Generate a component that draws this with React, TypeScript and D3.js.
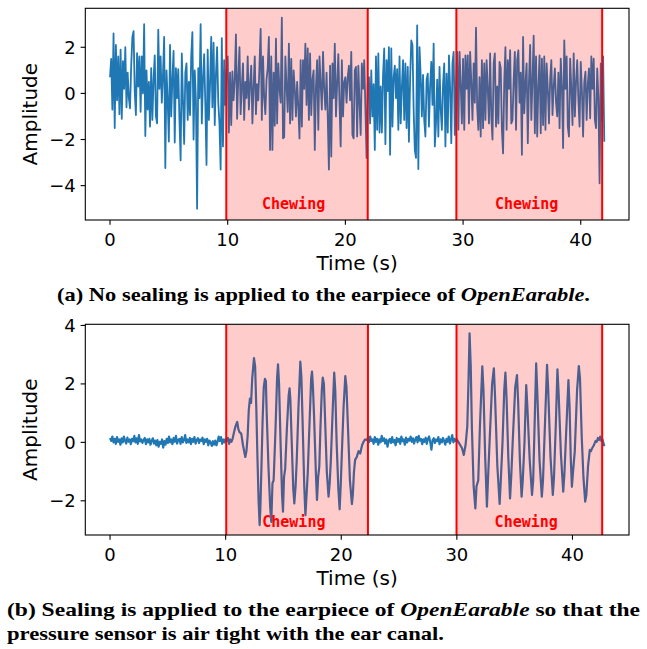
import React from 'react';
import * as d3 from 'd3';

// ---------- data ----------
// (a) unsealed earpiece, sampled every 0.1 s from t = 0
const unsealedDt = 0.1;
const unsealedAmp = [
  0.7, 1.5, -0.7, 2.6, -1.5, 2.1, -0.3, 1.6, -0.9, 1.9,
  -1.1, 1.4, 0.2, 2.0, -0.6, 0.9, -0.2, -0.65, 1.2, 2.45,
  2.7, 0.1, -0.94, 1.75, 0.3, 1.6, -0.8, 1.6, 0.0, 3.0,
  -1.85, 1.0, -0.7, 0.5, -1.44, 1.1, -1.15, 0.6, 1.65, -1.0,
  -1.3, 2.76, 0.2, 1.6, -0.4, 0.8, 2.45, -3.24, 1.0, -0.3,
  -2.09, 2.1, -1.0, 0.6, 1.84, -2.13, 1.1, -0.2, 1.05, -1.15,
  -2.9, 1.73, -0.3, -2.19, 0.9, 1.3, -1.15, 0.5, -0.94, 1.6,
  2.66, -2.0, 1.0, -0.3, -5.0, 1.1, -0.2, 3.0, -1.3, 0.6,
  1.7, -0.5, -3.1, 1.9, -1.15, 0.4, 2.45, -0.6, 2.2, -1.37,
  0.8, 2.0, -0.4, -1.3, -3.3, 2.4, -2.3, 1.44, -0.5, 1.0,
  1.6, -1.7, 0.9, -1.37, 0.95, -0.3, 0.6, 2.56, -1.1, 0.7,
  2.0, -0.9, 0.3, 1.3, -1.15, 0.5, -0.2, 1.6, -0.7, 0.4,
  1.2, -1.3, 0.3, 1.6, -0.9, 0.4, -0.3, 1.2, 2.8, -1.15,
  1.6, -0.2, -0.9, 0.6, 1.1, 2.45, -2.45, 1.6, -2.45, 0.9,
  -1.4, 2.37, -1.3, 1.3, 0.2, -0.4, 3.28, -1.95, -1.9, 1.6,
  0.3, -0.8, 2.16, -1.3, 1.5, -1.15, 1.0, 0.2, -1.0, 0.5,
  -0.6, -1.95, 1.44, -1.44, 1.44, 0.2, 2.16, -0.5, 1.95, -1.15,
  1.73, -0.94, 0.6, 1.0, -2.45, 0.3, 1.44, -1.58, 1.6, 0.4,
  -0.7, 1.8, 0.2, -0.7, 0.9, -1.0, -3.3, 1.2, -2.74, 1.3,
  -0.2, 2.16, -1.0, 0.4, 1.7, -0.4, -2.3, 1.44, -1.0, 0.5,
  0.7, -0.4, 0.72, 1.2, -0.3, 1.8, -1.8, -1.95, 1.0, 1.15,
  -1.87, 1.2, -0.4, -1.8, 1.3, 0.2, 1.44, -0.6, -2.8, 0.4,
  0.7, -1.3, 1.0, -1.0, 0.4, -2.45, 1.6, -1.58, 1.73, -1.7,
  0.3, -1.7, 0.8, 1.95, -2.2, 1.44, 0.1, 2.0, -2.66, 1.95,
  -1.44, 0.7, 1.2, -0.2, 1.05, -1.58, 1.6, -1.3, 0.3, 1.44,
  -1.15, 1.3, -1.5, 1.15, -2.1, 0.6, 2.3, 2.1, -0.7, -2.45,
  -2.8, 2.95, -3.28, 2.0, 0.72, -1.0, 0.8, -1.15, -1.87, 0.6,
  0.86, -1.44, 0.3, 1.37, -0.5, 2.16, -2.3, -1.3, 0.6, -1.87,
  1.15, -0.7, -1.58, 0.4, 1.3, -2.3, 0.86, -1.7, 1.65, 0.2,
  -2.16, 1.3, 1.8, -1.8, 0.3, 1.8, -1.58, 1.8, 0.4, -1.3,
  1.5, -1.58, 1.65, 0.2, 1.65, -1.3, 1.8, 0.5, -1.15, 1.3,
  -0.4, 2.85, -0.6, -1.58, 0.7, -1.87, 1.44, -1.51, 1.3, -1.15,
  1.44, 0.2, -1.3, 1.73, -1.0, -2.0, 1.3, 1.73, -1.44, 0.3,
  -1.3, 1.37, 1.1, -1.58, -2.6, 0.5, 2.0, -1.58, 1.44, 0.2,
  1.87, -1.3, -1.15, 0.6, 1.8, -1.58, 1.44, 1.87, -0.4, 0.9,
  -2.66, 2.45, -0.86, 0.4, 1.3, -2.16, 0.5, 2.1, -1.15, 0.6,
  2.5, -1.73, 1.6, -1.87, 0.3, 1.65, -1.73, 1.51, -1.37, 1.6,
  -1.58, 1.3, 0.2, -1.3, 0.6, 1.44, -0.94, 0.3, 1.08, -0.4,
  -1.0, 0.9, -1.51, 1.51, 0.3, -2.37, 2.3, 0.2, 1.6, -1.44,
  -1.87, 1.51, 0.2, -1.37, 1.73, -1.0, 0.5, 1.44, -0.3, -1.44,
  1.37, 0.1, -1.87, 0.5, 0.94, -1.15, 0.4, 1.08, -1.08, 1.6,
  0.2, 1.51, -1.15, -1.51, 1.08, -0.2, -3.9, 1.3, -1.15, 1.6,
  -2.1,
];

// (b) sealed earpiece
const sealedDt = 0.1;
const sealedRest1Start = 0;
const sealedRest1 = [
  0.15, 0.05, 0.2, 0.0, 0.12, -0.05, 0.18, 0.02, 0.1, -0.08,
  0.14, 0.0, 0.2, 0.05, -0.04, 0.16, 0.02, 0.1, -0.06, 0.12,
  0.04, 0.22, 0.0, 0.14, -0.05, 0.25, 0.03, 0.1, -0.02, 0.08,
  0.15, -0.06, 0.1, 0.0, 0.12, -0.08, 0.05, 0.14, -0.04, 0.06,
  -0.1, 0.08, -0.15, 0.02, -0.05, 0.1, -0.18, 0.04, -0.08, 0.12,
  -0.02, 0.2, 0.0, 0.1, -0.06, 0.15, 0.02, 0.22, -0.04, 0.08,
  0.12, -0.05, 0.18, 0.0, 0.08, 0.25, -0.02, 0.1, 0.0, 0.15,
  -0.06, 0.12, 0.02, 0.18, -0.04, 0.08, 0.14, -0.02, 0.1, 0.05,
  0.16, -0.06, 0.1, 0.02, 0.12, -0.1, 0.06, 0.0, -0.12, 0.04,
  -0.08, 0.06, -0.1, 0.02, 0.2, 0.05, 0.18, -0.05, 0.1, 0.0,
  0.12,
];
const sealedChew1Time = [
  10.1, 10.2, 10.3, 10.4, 10.5, 10.6, 10.7, 10.85, 11.0, 11.1, 11.2, 11.35, 11.5, 11.6, 11.7, 11.8, 11.9,
  12.0, 12.1, 12.2, 12.3, 12.45, 12.55, 12.65, 12.75, 12.85, 12.94, 13.0, 13.1, 13.2, 13.3, 13.4, 13.48,
  13.55, 13.7, 13.85, 13.95, 14.05, 14.15, 14.3, 14.45, 14.53, 14.62, 14.75, 14.88, 14.96, 15.05, 15.15,
  15.3, 15.45, 15.53, 15.6, 15.7, 15.85, 15.94, 16.05, 16.15, 16.3, 16.46, 16.55, 16.65, 16.8, 16.9, 17.0,
  17.1, 17.25, 17.4, 17.47, 17.55, 17.65, 17.8, 17.9, 18.0, 18.1, 18.2, 18.32, 18.4, 18.5, 18.6, 18.75,
  18.9, 19.0, 19.1, 19.25, 19.39, 19.48, 19.6, 19.75, 19.86, 19.95, 20.05, 20.2, 20.35, 20.45, 20.6, 20.75,
  20.92, 21.0, 21.1, 21.2, 21.35, 21.5, 21.64, 21.8, 21.93, 22.05, 22.2,
];
const sealedChew1Amp = [
  0.05, 0.15, -0.05, 0.1, 0.02, 0.12, 0.3, 0.55, 0.7, 0.45, 0.35, 0.3, -0.1, -0.3, -0.5, -0.3, 0.2,
  1.1, 1.5, 1.35, 2.2, 2.88, 2.6, 1.2, -0.5, -2.0, -2.83, -2.3, -0.8, 0.8, 1.9, 2.17, 2.1,
  1.0, -0.8, -2.2, -2.72, -1.4, -1.3, 0.3, 2.2, 2.67, 2.0, 0.0, -1.8, -2.37, -1.18, -0.9,
  0.5, 1.6, 1.85, 1.45, 0.2, -1.6, -2.09, -1.5, -0.6, 1.2, 2.76, 2.25, 0.8, -1.5, -2.49, -1.8,
  -1.06, 0.6, 2.2, 2.42, 1.9, 0.88, -1.0, -1.97, -1.2, -0.83, 0.5, 1.8, 2.22, 2.0, 0.8, -1.0,
  -1.86, -1.4, -0.6, 1.0, 2.39, 1.8, 0.0, -1.6, -2.29, -1.5, -0.4, 1.2, 2.27, 1.9, 0.3, -1.3,
  -2.11, -1.8, -1.0, -0.6, -0.49, -0.3, -0.38, -0.1, 0.02, 0.1, 0.08,
];
const sealedRest2Start = 22.3;
const sealedRest2 = [
  0.15, 0.0, 0.2, 0.05, 0.1, -0.05, 0.18,
  0.02, 0.12, -0.08, 0.1, 0.0, 0.22, 0.05, 0.14, -0.04, 0.1,
  -0.15, 0.05, 0.12, -0.02, 0.18, 0.0, 0.08, -0.1, 0.15, 0.02,
  0.12, -0.05, 0.2, 0.04, 0.1, -0.08, 0.16, 0.0, 0.12, 0.06,
  0.2, 0.02, 0.14, -0.04, 0.1, 0.18, 0.0, 0.22, 0.06, 0.12,
  -0.06, 0.1, 0.02, 0.16, -0.05, 0.12, 0.2, 0.0, -0.25, 0.08,
  0.14, -0.02, 0.1, 0.04, 0.18, -0.06, 0.1, 0.0, 0.15, 0.05,
  -0.08, 0.12, 0.02, 0.2, -0.04, 0.1, 0.25, 0.0, 0.12, 0.05,
];
const sealedChew2Time = [
  30.0, 30.15, 30.3, 30.45, 30.6, 30.75, 30.9, 31.0, 31.1, 31.2, 31.3, 31.45, 31.6, 31.7, 31.85, 32.0,
  32.2, 32.3, 32.45, 32.6, 32.7, 32.85, 33.05, 33.2, 33.3, 33.5, 33.7, 33.8, 33.95, 34.1, 34.2, 34.3,
  34.45, 34.6, 34.7, 34.85, 35.05, 35.2, 35.3, 35.45, 35.6, 35.7, 35.85, 36.0, 36.1, 36.3, 36.5, 36.6,
  36.7, 36.86, 36.95, 37.15, 37.35, 37.45, 37.6, 37.8, 37.9, 38.1, 38.3, 38.4, 38.55, 38.7, 38.8, 39.0,
  39.2, 39.3, 39.45, 39.65, 39.75, 39.85, 39.95, 40.05, 40.2, 40.4, 40.55, 40.65, 40.8, 40.95, 41.1,
  41.2, 41.35, 41.5, 41.6, 41.7, 41.85, 42.0, 42.1, 42.2, 42.3, 42.4, 42.5, 42.6, 42.7, 42.75,
];
const sealedChew2Amp = [
  0.1, 0.0, -0.1, -0.2, -0.43, -0.1, 0.54, 2.0, 3.73, 2.6, 0.5, -1.5, -2.26, -1.5, -1.3, 0.6,
  2.6, 1.8, -0.5, -2.2, -1.2, 0.2, 2.0, 2.53, 1.6, -0.8, -2.11, -1.3, 0.0, 1.8, 2.39, 1.5,
  -0.5, -1.92, -1.2, 0.2, 1.9, 2.3, 1.4, -0.6, -1.86, -1.3, 0.0, 1.96, 1.2, -0.6, -1.8, -1.3,
  0.2, 2.7, 1.8, -0.6, -1.86, -1.3, 0.4, 2.65, 1.8, -0.5, -1.8, -1.2, 0.5, 2.5, 1.7, -0.4,
  -1.69, -1.1, 0.3, 2.13, 1.2, -0.5, -1.52, -1.0, -0.3, 1.8, 2.61, 2.2, 0.2, -1.2, -2.03,
  -1.8, -0.8, -0.26, -0.3, -0.2, -0.1, 0.05, 0.02, 0.15, 0.08, 0.2, 0.05, 0.1, -0.05, -0.13,
];

const xTicks = [0, 10, 20, 30, 40];
const topYTicks = [-4, -2, 0, 2];
const bottomYTicks = [-2, 0, 2, 4];
const topSpans: [number, number][] = [[9.88, 21.9], [29.43, 41.82]];
const bottomSpans: [number, number][] = [[10.05, 22.31], [29.97, 42.57]];
const topLabelX = [15.6, 35.4];
const topLabelY = -5.0;
const bottomLabelX = [15.9, 36.0];
const bottomLabelY = -2.9;
const chewText = 'Chewing';

type Pt = [number, number];

const unsealedPts: Pt[] = unsealedAmp.map((v, i) => [i * unsealedDt, v]);
const sealedPts: Pt[] = [
  ...sealedRest1.map((v, i) => [sealedRest1Start + i * sealedDt, v] as Pt),
  ...sealedChew1Time.map((t, i) => [t, sealedChew1Amp[i]] as Pt),
  ...sealedRest2.map((v, i) => [sealedRest2Start + i * sealedDt, v] as Pt),
  ...sealedChew2Time.map((t, i) => [t, sealedChew2Amp[i]] as Pt),
];

const SANS = 'DejaVu Sans, sans-serif';
const MINUS = '\u2212';
const fmt = (v: number) => (v < 0 ? MINUS + Math.abs(v) : String(v));

interface PanelProps {
  left: number; right: number; top: number; bottom: number;
  xDomain: [number, number]; yDomain: [number, number];
  pts: Pt[]; spans: [number, number][]; yTicks: number[];
  labelX: number[]; labelY: number; lineWidth: number; clipId: string;
}

function Panel(p: PanelProps) {
  const x = d3.scaleLinear().domain(p.xDomain).range([p.left, p.right]);
  const y = d3.scaleLinear().domain(p.yDomain).range([p.bottom, p.top]);
  const line = d3.line<Pt>().x(d => x(d[0])).y(d => y(d[1]));
  const h = p.bottom - p.top;
  const midY = (p.top + p.bottom) / 2;
  return (
    <g>
      <defs>
        <clipPath id={p.clipId}>
          <rect x={p.left} y={p.top} width={p.right - p.left} height={h} />
        </clipPath>
      </defs>
      <g clipPath={`url(#${p.clipId})`}>
        <path d={line(p.pts) || ''} fill="none" stroke="#1f77b4" strokeWidth={p.lineWidth} strokeLinejoin="round" />
        {p.spans.map((s, i) => (
          <rect key={'s' + i} x={x(s[0])} y={p.top} width={x(s[1]) - x(s[0])} height={h} fill="red" fillOpacity={0.2} />
        ))}
        {p.spans.flatMap((s, i) => s.map((v, j) => (
          <line key={'l' + i + j} x1={x(v)} x2={x(v)} y1={p.top} y2={p.bottom} stroke="red" strokeWidth={2} />
        )))}
      </g>
      {p.labelX.map((lx, i) => (
        <text key={'c' + i} x={x(lx)} y={y(p.labelY)} textAnchor="middle" fill="red"
          fontFamily="DejaVu Sans Mono, monospace" fontWeight="bold" fontSize={15}>{chewText}</text>
      ))}
      <rect x={p.left} y={p.top} width={p.right - p.left} height={h} fill="none" stroke="#000" strokeWidth={1.1} />
      {xTicks.map(t => (
        <g key={'xt' + t}>
          <line x1={x(t)} x2={x(t)} y1={p.bottom} y2={p.bottom + 4.7} stroke="#000" strokeWidth={1.1} />
          <text x={x(t)} y={p.bottom + 26} textAnchor="middle" fontFamily={SANS} fontSize={18} fill="#000">{fmt(t)}</text>
        </g>
      ))}
      {p.yTicks.map(t => (
        <g key={'yt' + t}>
          <line x1={p.left - 4.7} x2={p.left} y1={y(t)} y2={y(t)} stroke="#000" strokeWidth={1.1} />
          <text x={p.left - 9.5} y={y(t)} dy="0.36em" textAnchor="end" fontFamily={SANS} fontSize={18} fill="#000">{fmt(t)}</text>
        </g>
      ))}
      <text x={(p.left + p.right) / 2} y={p.bottom + 50} textAnchor="middle" fontFamily={SANS} fontSize={20} fill="#000">Time (s)</text>
      <text transform={`translate(37,${midY}) rotate(-90)`} textAnchor="middle" fontFamily={SANS} fontSize={20} fill="#000">Amplitude</text>
    </g>
  );
}

export default function App() {
  const serif = 'Liberation Serif, DejaVu Serif, serif';
  return (
    <svg width={647} height={649} style={{ position: 'absolute', left: 0, top: 0, background: '#fff' }}>
      <rect x={0} y={0} width={647} height={649} fill="#fff" />
      <Panel left={85.3} right={629} top={8.3} bottom={220}
        xDomain={[-2.1, 44.1]} yDomain={[-5.49, 3.69]}
        pts={unsealedPts} spans={topSpans} yTicks={topYTicks}
        labelX={topLabelX} labelY={topLabelY} lineWidth={1.8} clipId="clipA" />
      <Panel left={85.3} right={629} top={324.3} bottom={535}
        xDomain={[-2.14, 44.89]} yDomain={[-3.17, 4.04]}
        pts={sealedPts} spans={bottomSpans} yTicks={bottomYTicks}
        labelX={bottomLabelX} labelY={bottomLabelY} lineWidth={2.2} clipId="clipB" />
      <text x={57} y={301} textLength={533} lengthAdjust="spacingAndGlyphs" fontFamily={serif} fontWeight="bold" fontSize={19} fill="#000">
        (a) No sealing is applied to the earpiece of <tspan fontStyle="italic">OpenEarable</tspan>.
      </text>
      <text x={7} y={616} textLength={633} lengthAdjust="spacingAndGlyphs" fontFamily={serif} fontWeight="bold" fontSize={19} fill="#000">
        (b) Sealing is applied to the earpiece of <tspan fontStyle="italic">OpenEarable</tspan> so that the
      </text>
      <text x={7} y={640} textLength={437} lengthAdjust="spacingAndGlyphs" fontFamily={serif} fontWeight="bold" fontSize={19} fill="#000">
        pressure sensor is air tight with the ear canal.
      </text>
    </svg>
  );
}
